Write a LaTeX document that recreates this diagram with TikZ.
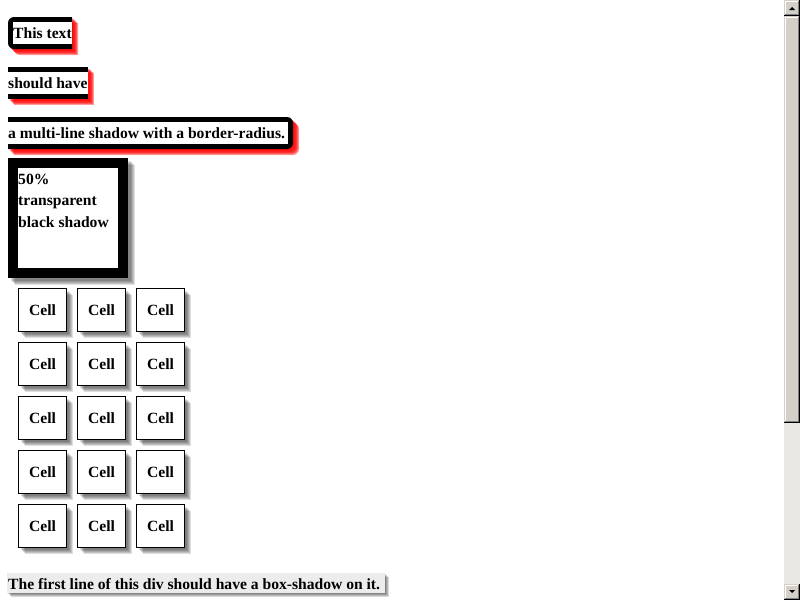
\documentclass[tikz,border=0pt]{standalone}
\usepackage{fontspec}
\setmainfont{Liberation Serif}
\usetikzlibrary{positioning,shadows}
\definecolor{sbface}{RGB}{212,208,200}
\definecolor{sbtrack}{RGB}{234,232,228}
\definecolor{sbdark}{RGB}{128,128,128}
\definecolor{lineback}{RGB}{236,236,236}
\tikzset{
page/.style={x=1pt,y=-1pt,font=\fontsize{15.6}{20}\selectfont\bfseries},
layer/.style n args={3}{general shadow={fill=#1,opacity=#2,
shadow xshift=#3,shadow yshift=-#3}},
red shadow/.style={layer={red}{.4}{2pt},layer={red}{.4}{3pt},
layer={red}{.4}{4pt},layer={red}{.4}{5pt},layer={red}{.4}{6pt}},
half shadow/.style={layer={black}{.12}{3pt},layer={black}{.12}{4pt},
layer={black}{.12}{5pt},layer={black}{.12}{6pt},layer={black}{.12}{7pt}},
cell shadow/.style={layer={black}{.13}{2pt},layer={black}{.13}{3pt},
layer={black}{.13}{4pt},layer={black}{.13}{5pt},layer={black}{.13}{6pt}},
line shadow/.style={layer={black}{.15}{1pt},layer={black}{.15}{2pt},
layer={black}{.15}{3pt},layer={black}{.15}{4pt}},
cell/.style={draw,fill=white,line width=1pt,minimum width=48pt,
minimum height=43pt,inner sep=0pt,cell shadow},
txt/.style={anchor=base west,inner sep=0pt},
}
% one raised part of the scroll bar
\newcommand\winbox[2]{%
\fill[sbface] (784,#1) rectangle (800,#2);
\draw[white] (785.5,#2-1) -- (785.5,#1+1.5) -- (799,#1+1.5);
\draw[sbdark] (785,#2-1.5) -- (798.5,#2-1.5) -- (798.5,#1+1);
\draw[black] (784,#2-0.5) -- (799.5,#2-0.5) -- (799.5,#1);
}

\begin{document}
\begin{tikzpicture}[page]
\useasboundingbox (0,0) rectangle (800,600);
\fill[white] (0,0) rectangle (800,600);

% the inline box, broken over three lines
\fill[black,red shadow] (72,17) -- (14,17) arc[start angle=270,end angle=180,radius=6]
  -- (8,43) arc[start angle=180,end angle=90,radius=6] -- (72,49) -- cycle;
\fill[white] (13,22) rectangle (72,44);
\node[txt] (frag1) at (13,38) {This text};

\fill[black,red shadow] (8,67) rectangle (88,99);
\fill[white] (8,72) rectangle (88,94);
\node[txt] (frag2) at (8,88) {should have};

\fill[black,red shadow] (8,117) -- (287,117) arc[start angle=270,end angle=360,radius=6]
  -- (293,143) arc[start angle=0,end angle=90,radius=6] -- (8,149) -- cycle;
\fill[white] (8,122) rectangle (288,144);
\node[txt] (frag3) at (8,138) {a multi-line shadow with a border-radius.};

% 50% box
\fill[black,half shadow] (8,158) rectangle (128,278);
\fill[white] (18,168) rectangle (118,268);
\node[txt] (half1) at (18,184) {50\%};
\node[txt] (half2) at (18,205.5) {transparent};
\node[txt] (half3) at (18,227) {black shadow};

% table cells
\begin{scope}[node distance=10pt]
\node[cell] (a1) at (42.5,310) {Cell};
\node[cell,right=of a1] (a2) {Cell};
\node[cell,right=of a2] (a3) {Cell};
\node[cell,below=of a1] (b1) {Cell};
\node[cell,right=of b1] (b2) {Cell};
\node[cell,right=of b2] (b3) {Cell};
\node[cell,below=of b1] (c1) {Cell};
\node[cell,right=of c1] (c2) {Cell};
\node[cell,right=of c2] (c3) {Cell};
\node[cell,below=of c1] (d1) {Cell};
\node[cell,right=of d1] (d2) {Cell};
\node[cell,right=of d2] (d3) {Cell};
\node[cell,below=of d1] (e1) {Cell};
\node[cell,right=of e1] (e2) {Cell};
\node[cell,right=of e2] (e3) {Cell};
\end{scope}

% first line of the div
\fill[lineback,line shadow] (7,573) rectangle (385,593);
\node[txt] (first) at (8,589) {The first line of this div should have a box-shadow on it.};

% scroll bar
\fill[sbtrack] (784,0) rectangle (800,600);
\winbox{0}{16}
\winbox{16}{423}
\winbox{584}{600}
\fill[black] (789,10) -- (795,10) -- (792,7) -- cycle;
\fill[black] (789,590) -- (795,590) -- (792,593) -- cycle;
\end{tikzpicture}
\end{document}
